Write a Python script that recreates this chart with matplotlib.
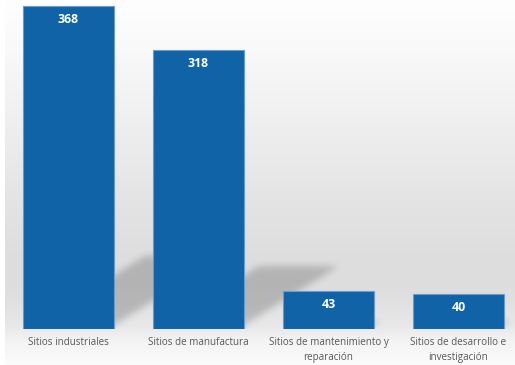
import numpy as np
import matplotlib
matplotlib.use("Agg")
import matplotlib.pyplot as plt

categories = ["Sitios industriales", "Sitios de manufactura",
              "Sitios de mantenimiento y\nreparación", "Sitios de desarrollo e\ninvestigación"]
values = [368, 318, 43, 40]

BAR_COLOR = "#1063a7"
EDGE_COLOR = "#6a9bd0"
LABEL_COLOR = "#595959"

W, H = 515, 365
fig = plt.figure(figsize=(W / 100, H / 100), dpi=100)
fig.patch.set_facecolor("white")

# vertical gradient background of the chart area
bg_ax = fig.add_axes([5 / W, 0, 1 - 5 / W, 1])
stops_px = [0, 50, 100, 150, 200, 250, 280, 300, 325, 340, 365]
stops_v = [254, 249, 242, 235, 228, 222, 221, 224, 232, 243, 252]
rows = np.interp(np.arange(H), stops_px, stops_v) / 255.0
grad = np.repeat(rows[:, None], 10, axis=1)
bg_ax.imshow(np.dstack([grad, grad, grad]), aspect="auto", extent=(0, 1, 0, 1))
bg_ax.set_axis_off()

# main plot axes
base_px = 36  # baseline distance from the bottom in pixels
ax = fig.add_axes([0, base_px / H, 1, 1 - base_px / H])
ax.patch.set_alpha(0)
step_px = 130.0
x0_px = 68.5
xlim = (-x0_px / step_px, (W - x0_px) / step_px)
px_per_unit = 0.8777
ylim = (0, (H - base_px) / px_per_unit)
ax.set_xlim(*xlim)
ax.set_ylim(*ylim)

x = np.arange(len(values))
bar_w = 0.7

# perspective shadows behind the bars, rasterised in pixel space and blurred
ax_w_px = W
ax_h_px = H - base_px
sx = ax_w_px / (xlim[1] - xlim[0])
sy = ax_h_px / (ylim[1] - ylim[0])
gx, gy = np.meshgrid(np.arange(ax_w_px) + 0.5, np.arange(ax_h_px) + 0.5)
gy_up = ax_h_px - gy  # pixel height above baseline
mask = np.zeros((ax_h_px, ax_w_px))
shear = 1.6
vscale = 0.225
for xi, v in zip(x, values):
    left = (xi - bar_w / 2 - xlim[0]) * sx + 5
    right = (xi + bar_w / 2 - xlim[0]) * sx - 6
    dy = v * sy * vscale
    inside = (gy_up >= 0) & (gy_up <= dy) & \
             (gx >= left + gy_up * shear) & (gx <= right + gy_up * shear)
    mask[inside] = 1.0

def blur(a, sigma):
    r = int(3 * sigma)
    k = np.exp(-0.5 * (np.arange(-r, r + 1) / sigma) ** 2)
    k /= k.sum()
    a = np.apply_along_axis(lambda m: np.convolve(np.pad(m, r, mode="edge"), k, "valid"), 0, a)
    a = np.apply_along_axis(lambda m: np.convolve(np.pad(m, r, mode="edge"), k, "valid"), 1, a)
    return a

mask = blur(mask, 3.5)
shadow = np.zeros((ax_h_px, ax_w_px, 4))
shadow[..., 3] = mask * 0.19
ax.imshow(shadow, extent=(xlim[0], xlim[1], ylim[0], ylim[1]), aspect="auto",
          zorder=1, interpolation="bilinear")

bars = ax.bar(x, values, width=bar_w, color=BAR_COLOR, edgecolor=EDGE_COLOR,
              linewidth=0.8, zorder=2)

for xi, v in zip(x, values):
    ax.annotate(str(v), xy=(xi, v), xytext=(0, -9.5), textcoords="offset points",
                ha="center", va="center", color="white", fontsize=8.8,
                fontweight="bold", family="Open Sans", zorder=3)

ax.set_axis_off()

# category labels below the baseline
for xi, lab in zip(x, categories):
    ax.annotate(lab, xy=(xi, 0), xytext=(0, -6.0), textcoords="offset points",
                ha="center", va="top", color=LABEL_COLOR, fontsize=7.1,
                family="Open Sans", linespacing=1.45, annotation_clip=False)

fig.savefig("out.png", dpi=100, facecolor=fig.get_facecolor())
